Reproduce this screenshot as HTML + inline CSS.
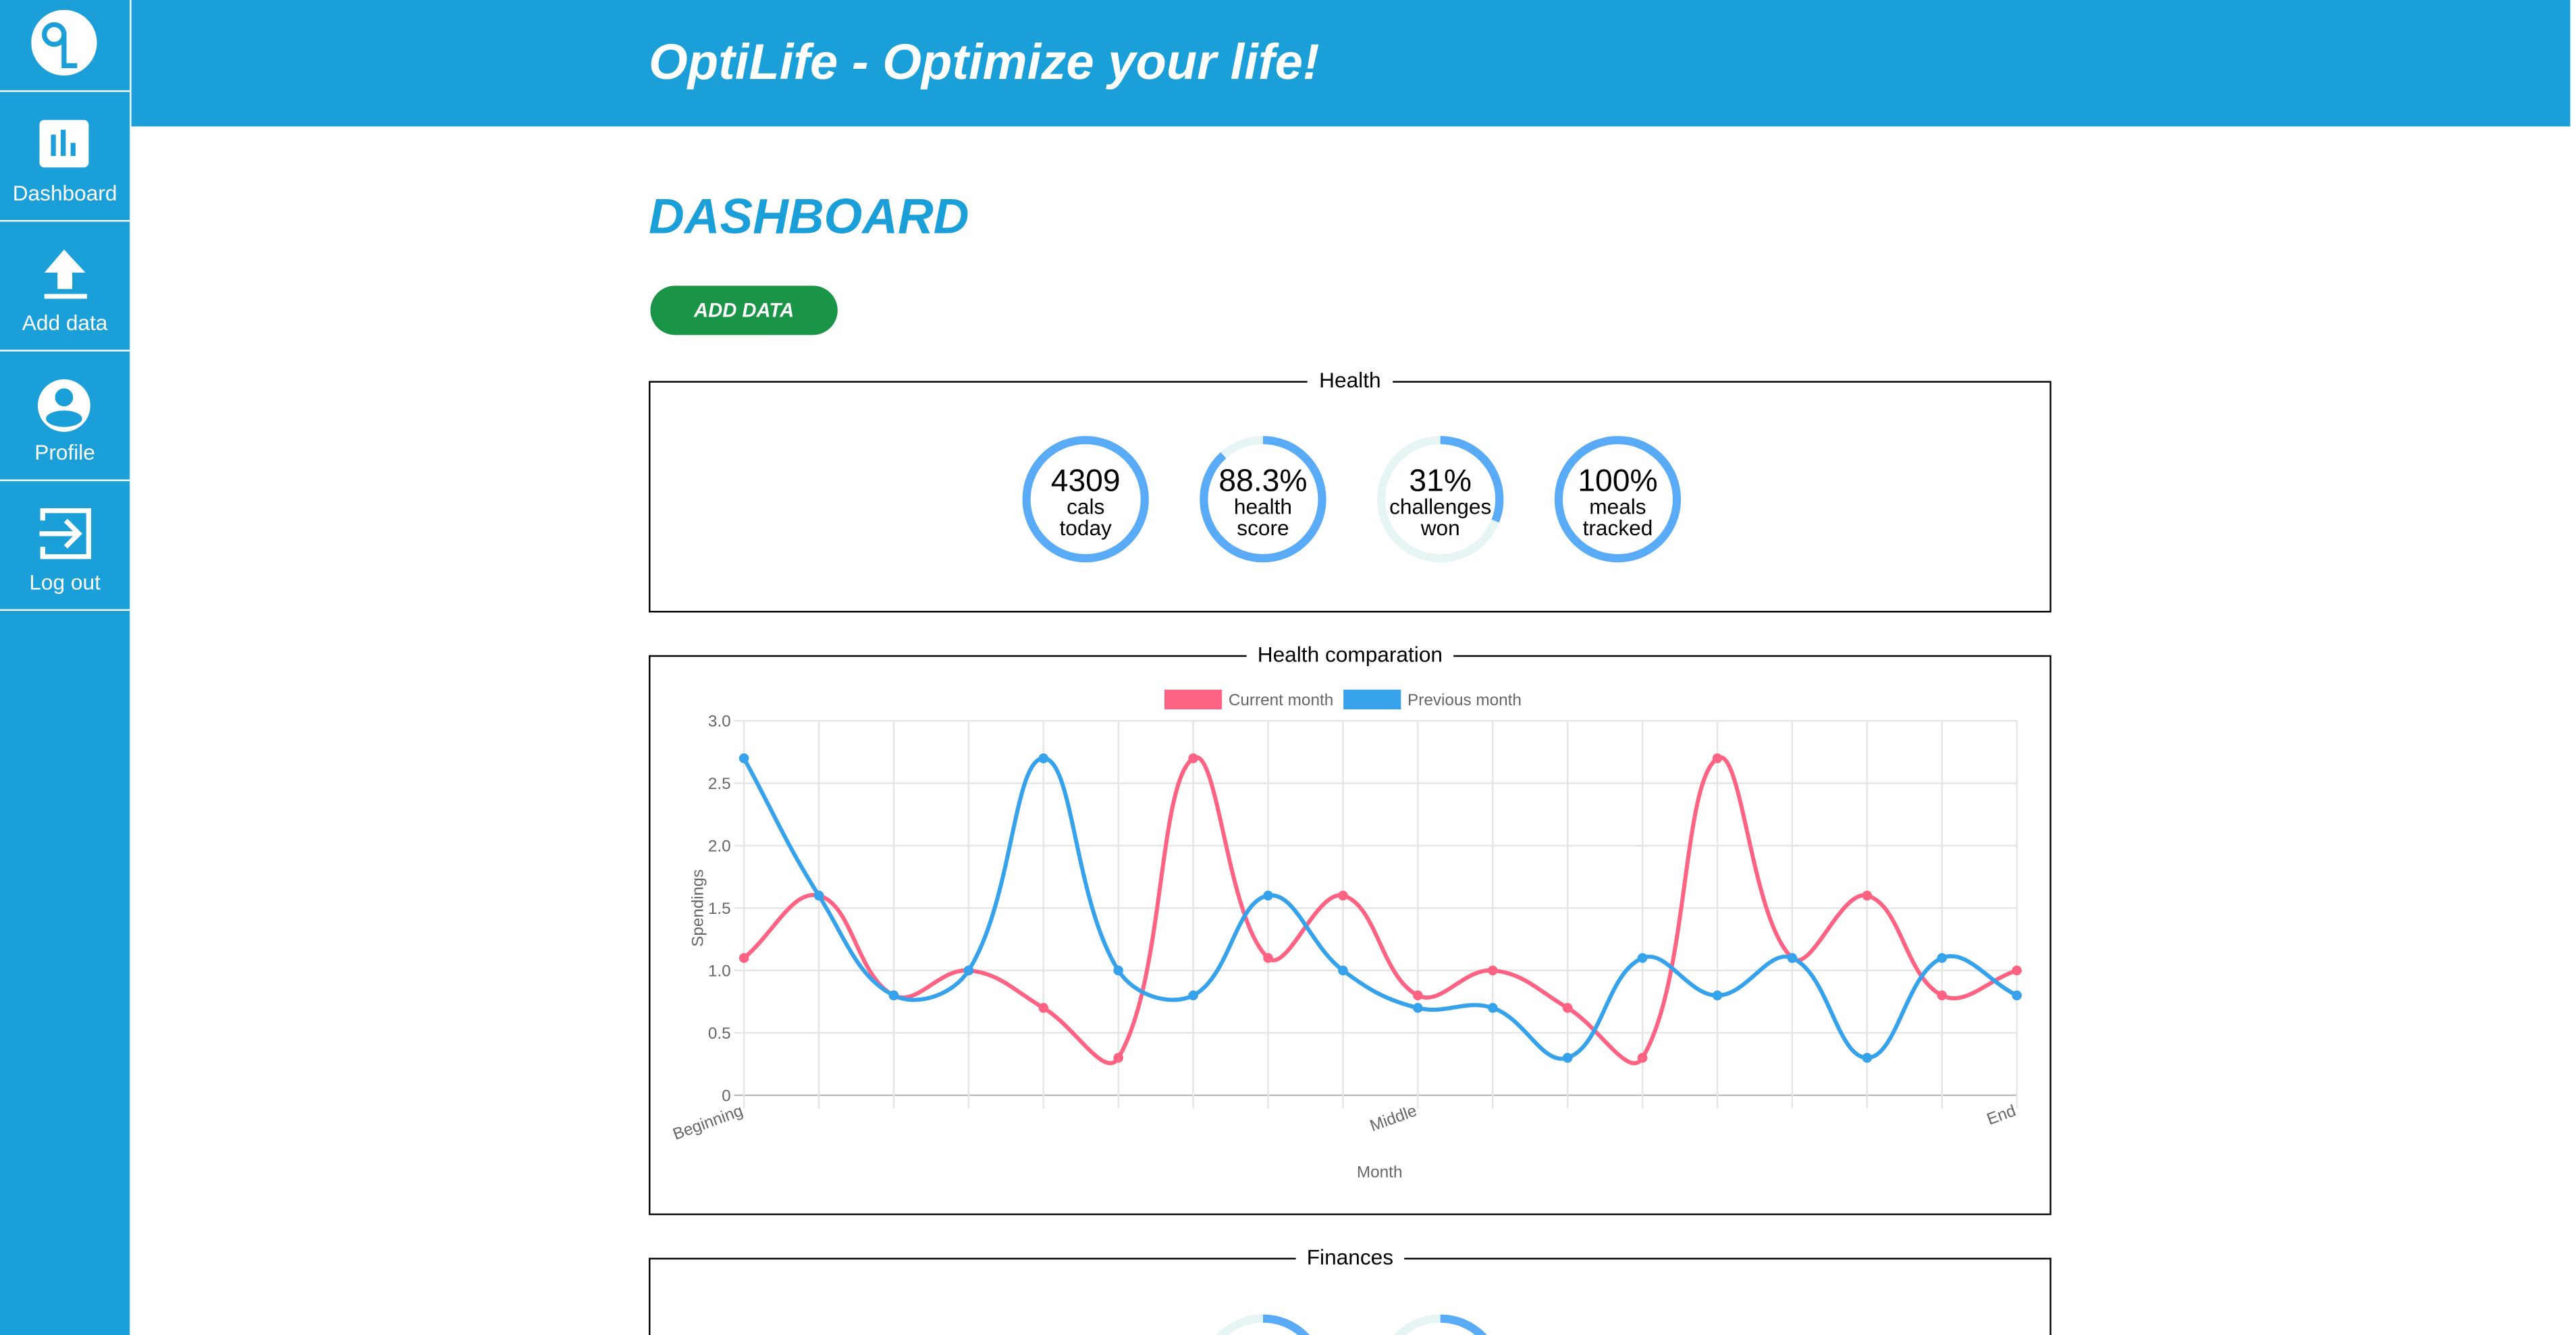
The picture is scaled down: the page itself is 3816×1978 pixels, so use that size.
<!DOCTYPE html>
<html><head><meta charset="utf-8">
<style>
html,body{margin:0;padding:0;width:3816px;height:1978px;overflow:hidden;background:#fff}
#wrap{position:absolute;left:0;top:0;width:1568px;height:813px;overflow:hidden;transform:scale(2.43296);transform-origin:0 0;font-family:"Liberation Sans",sans-serif}
.abs{position:absolute}
#side{left:0;top:0;width:79px;height:813px;background:#1b9fd9;border-right:1px solid #fff}
.nav{position:absolute;left:0;width:79px;height:78px;border-bottom:1px solid #fff;color:#fff;text-align:center;font-size:13px}
.nav span{position:absolute;left:0;right:0;bottom:9px}
#hdr{left:80px;top:0;width:1485px;height:77px;background:#1b9fd9}
#title{left:395px;top:21px;color:#fff;font-size:30.5px;font-weight:bold;font-style:italic;white-space:nowrap}
#dash{left:395px;top:116px;color:#1b9fd9;font-size:30px;font-weight:bold;font-style:italic}
#btn{left:396px;top:174px;width:114px;height:30px;border-radius:15px;background:#1a9447;color:#fff;font-size:12px;font-weight:bold;font-style:italic;text-align:center;line-height:30px}
.fs{position:absolute;left:395px;width:852px;border:1px solid #000}
.lg{position:absolute;top:-9px;left:0;right:0;text-align:center;font-size:13px}
.lg span{background:#fff;padding:0 7px}
</style></head><body>
<div id="wrap">
<div id="side" class="abs">
 <div class="nav" style="top:0;height:55px">
  <svg class="abs" style="left:19px;top:6px" width="40" height="40"><circle cx="20" cy="20" r="20" fill="#fff"/><circle cx="14" cy="15" r="6" fill="none" stroke="#1b9fd9" stroke-width="3"/><path d="M20 14 V34 H28" fill="none" stroke="#1b9fd9" stroke-width="3"/></svg>
 </div>
 <div class="nav" style="top:56px">
  <svg class="abs" style="left:24px;top:17px" width="32" height="30"><rect x="0" y="0" width="30" height="29" rx="3" fill="#fff"/><rect x="7" y="9" width="3" height="13" fill="#1b9fd9"/><rect x="13" y="6" width="3" height="16" fill="#1b9fd9"/><rect x="19" y="14" width="3" height="8" fill="#1b9fd9"/></svg>
  <span>Dashboard</span></div>
 <div class="nav" style="top:135px">
  <svg class="abs" style="left:26px;top:17px" width="28" height="30"><path d="M13 0 L26 14 H18 V24 H9 V14 H1 Z" fill="#fff"/><rect x="1" y="27" width="26" height="3" fill="#fff"/></svg>
  <span>Add data</span></div>
 <div class="nav" style="top:214px">
  <svg class="abs" style="left:23px;top:16px" width="34" height="34"><circle cx="16" cy="17" r="16" fill="#fff"/><circle cx="16" cy="12" r="5.5" fill="#1b9fd9"/><ellipse cx="16" cy="25" rx="11" ry="5" fill="#1b9fd9"/></svg>
  <span>Profile</span></div>
 <div class="nav" style="top:293px">
  <svg class="abs" style="left:24px;top:16px" width="32" height="32"><path d="M2 8 V2 H30 V30 H2 V24" fill="none" stroke="#fff" stroke-width="3"/><path d="M0 16 H24 M16 8 L24 16 L16 24" fill="none" stroke="#fff" stroke-width="3"/></svg>
  <span>Log out</span></div>
</div>
<div id="hdr" class="abs"></div>
<div id="title" class="abs">OptiLife - Optimize your life!</div>
<div id="dash" class="abs">DASHBOARD</div>
<div id="btn" class="abs">ADD DATA</div>

<div class="fs" style="top:232px;height:139px">
 <div class="lg"><span>Health</span></div>
 <svg class="abs" style="left:0;top:0" width="852" height="139" font-family="Liberation Sans,sans-serif" text-anchor="middle">
  <g><circle cx="265" cy="71" r="36" fill="none" stroke="#5aabf7" stroke-width="5"/>
   <text x="265" y="66" font-size="19">4309</text><text x="265" y="80" font-size="13">cals</text><text x="265" y="93" font-size="13">today</text></g>
  <g><circle cx="373" cy="71" r="36" fill="none" stroke="#e6f5f3" stroke-width="5"/>
   <circle cx="373" cy="71" r="36" fill="none" stroke="#5aabf7" stroke-width="5" stroke-dasharray="199.7 300" transform="rotate(-90 373 71)"/>
   <text x="373" y="66" font-size="19">88.3%</text><text x="373" y="80" font-size="13">health</text><text x="373" y="93" font-size="13">score</text></g>
  <g><circle cx="481" cy="71" r="36" fill="none" stroke="#e6f5f3" stroke-width="5"/>
   <circle cx="481" cy="71" r="36" fill="none" stroke="#5aabf7" stroke-width="5" stroke-dasharray="70.1 300" transform="rotate(-90 481 71)"/>
   <text x="481" y="66" font-size="19">31%</text><text x="481" y="80" font-size="13">challenges</text><text x="481" y="93" font-size="13">won</text></g>
  <g><circle cx="589" cy="71" r="36" fill="none" stroke="#5aabf7" stroke-width="5"/>
   <text x="589" y="66" font-size="19">100%</text><text x="589" y="80" font-size="13">meals</text><text x="589" y="93" font-size="13">tracked</text></g>
 </svg>
</div>

<div class="fs" style="top:399px;height:339px">
 <div class="lg"><span>Health comparation</span></div>
</div>
<svg id="chart" class="abs" style="left:0;top:0" width="1568" height="813" font-family="Liberation Sans,sans-serif"></svg>

<div class="fs" style="top:766px;height:47px;border-bottom:none">
 <div class="lg"><span>Finances</span></div>
 <svg class="abs" style="left:0;top:0;overflow:hidden" width="852" height="46">
  <circle cx="373" cy="72" r="36" fill="none" stroke="#e6f5f3" stroke-width="5"/>
  <circle cx="373" cy="72" r="36" fill="none" stroke="#5aabf7" stroke-width="5" stroke-dasharray="40 300" transform="rotate(-90 373 72)"/>
  <circle cx="481" cy="72" r="36" fill="none" stroke="#e6f5f3" stroke-width="5"/>
  <circle cx="481" cy="72" r="36" fill="none" stroke="#5aabf7" stroke-width="5" stroke-dasharray="30 300" transform="rotate(-90 481 72)"/>
 </svg>
</div>
<div class="abs" style="left:1565px;top:0;width:3px;height:813px;background:#fff"></div>
</div>
<script>
const categories=["Beginning","","","","","","","","","Middle","","","","","","","","End"];
const currentMonth=[1.1,1.6,0.8,1.0,0.7,0.3,2.7,1.1,1.6,0.8,1.0,0.7,0.3,2.7,1.1,1.6,0.8,1.0];
const previousMonth=[2.7,1.6,0.8,1.0,2.7,1.0,0.8,1.6,1.0,0.7,0.7,0.3,1.1,0.8,1.1,0.3,1.1,0.8];
const yTicks=[0,0.5,1.0,1.5,2.0,2.5,3.0];
const yTickLabels=["0","0.5","1.0","1.5","2.0","2.5","3.0"];
const NS="http://www.w3.org/2000/svg";
const svg=document.getElementById('chart');
const L=453,R=1228,T=439,B=667,YMAX=3;
function xs(i){return L+(R-L)*i/(categories.length-1);}
function ys(v){return B-(B-T)*v/YMAX;}
function mk(tag,attrs,txt){const e=document.createElementNS(NS,tag);for(const k in attrs)e.setAttribute(k,attrs[k]);if(txt!=null)e.textContent=txt;svg.appendChild(e);return e;}
yTicks.forEach((v,i)=>{
 const g=mk('line',{x1:L-6,x2:R,y1:ys(v),y2:ys(v),stroke:v===0?'#bbb':'#e5e5e5','stroke-width':1});
 
 
 const t=mk('text',{x:L-8,y:ys(v)+3.5,'font-size':10,fill:'#666','text-anchor':'end'},yTickLabels[i]);
 
 
});
categories.forEach((c,i)=>{
 const g=mk('line',{x1:xs(i),x2:xs(i),y1:T,y2:B+8,stroke:'#e5e5e5','stroke-width':1});
 
 
 if(c){const t=mk('text',{x:xs(i),y:B+12,'font-size':10,fill:'#666','text-anchor':'end',transform:`rotate(-20 ${xs(i)} ${B+12})`},c);
 
 }
});
const yt=mk('text',{x:428,y:553,'font-size':10,fill:'#666','text-anchor':'middle',transform:'rotate(-90 428 553)'},'Spendings');


const xt=mk('text',{x:840,y:717,'font-size':10,fill:'#666','text-anchor':'middle'},'Month');


function path(vals){
 const p=vals.map((v,i)=>[xs(i),ys(v)]);const t=0.4;const cps=[];
 for(let i=0;i<p.length;i++){
  const pr=p[i-1]||p[i],c=p[i],nx=p[i+1]||p[i];
  const d01=Math.hypot(c[0]-pr[0],c[1]-pr[1]),d12=Math.hypot(nx[0]-c[0],nx[1]-c[1]);
  let s01=d01/(d01+d12),s12=d12/(d01+d12);if(isNaN(s01))s01=0;if(isNaN(s12))s12=0;
  const fa=t*s01,fb=t*s12;
  cps.push([[c[0]-fa*(nx[0]-pr[0]),c[1]-fa*(nx[1]-pr[1])],[c[0]+fb*(nx[0]-pr[0]),c[1]+fb*(nx[1]-pr[1])]]);
 }
 let d=`M${p[0][0]},${p[0][1]}`;
 for(let i=1;i<p.length;i++){const a=cps[i-1][1],b=cps[i][0];d+=` C${a[0]},${a[1]} ${b[0]},${b[1]} ${p[i][0]},${p[i][1]}`;}
 return d;
}
function series(vals,color,name){
 const pa=mk('path',{d:path(vals),fill:'none',stroke:color,'stroke-width':2.5});
 
 
 vals.forEach((v,i)=>{const c=mk('circle',{cx:xs(i),cy:ys(v),r:3,fill:color});
  
  });
}
series(currentMonth,'#ff6384','current-month');
series(previousMonth,'#36a2eb','previous-month');
const l1=mk('rect',{x:709,y:420,width:35,height:12,fill:'#ff6384'});


const l1t=mk('text',{x:748,y:429.5,'font-size':10,fill:'#666'},'Current month');


const l2=mk('rect',{x:818,y:420,width:35,height:12,fill:'#36a2eb'});


const l2t=mk('text',{x:857,y:429.5,'font-size':10,fill:'#666'},'Previous month');


</script>
</body></html>
